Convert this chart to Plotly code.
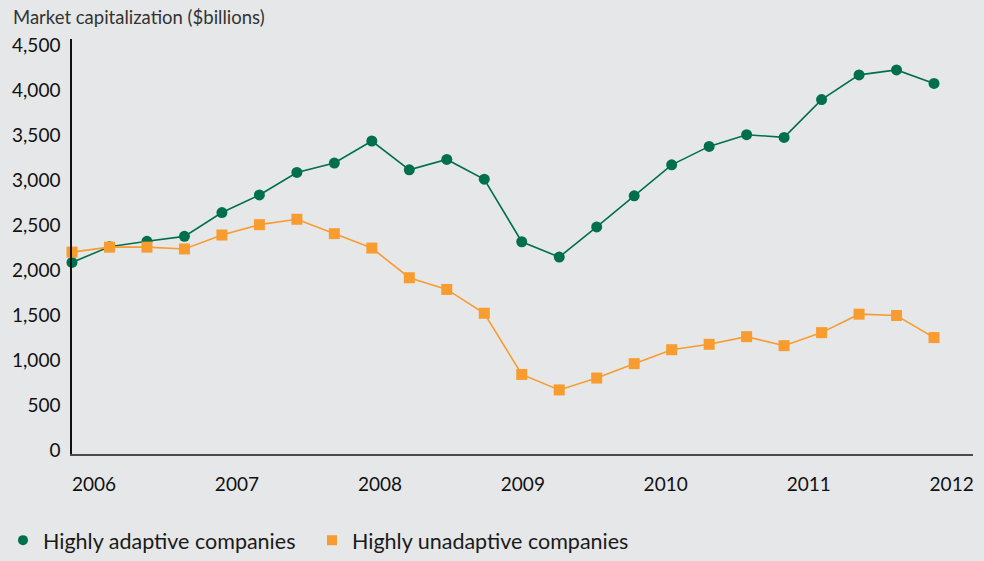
import plotly.graph_objects as go

# Quarterly observations, Q1 2006 through Q4 2011
quarters = [f"{y} Q{q}" for y in range(2006, 2012) for q in range(1, 5)]
quarter_index = list(range(len(quarters)))

# Market capitalization, $billions
adaptive = [2090, 2265, 2325, 2380, 2645, 2840, 3090, 3195,
            3440, 3120, 3235, 3015, 2320, 2150, 2485, 2830,
            3175, 3380, 3510, 3480, 3900, 4175, 4230, 4080]
unadaptive = [2205, 2260, 2260, 2240, 2395, 2510, 2570, 2410,
              2250, 1920, 1790, 1525, 845, 673, 805, 965,
              1120, 1180, 1265, 1165, 1310, 1515, 1500, 1255]

series_names = ["Highly adaptive companies", "Highly unadaptive companies"]

# Year labels along the time axis (in quarter-index units)
year_labels = ["2006", "2007", "2008", "2009", "2010", "2011", "2012"]
year_pos = [0.59, 4.40, 8.22, 12.03, 15.84, 19.66, 23.47]

y_ticks = list(range(0, 4501, 500))
y_tick_text = [f"{v:,}" for v in y_ticks]

GREEN = "#00704c"
ORANGE = "#f89c2f"
BG = "#e6e7e8"
FONT = "Lato, 'Noto Sans', sans-serif"

W, H = 984, 561
# plot area in pixels
PX_L, PX_R, PX_T, PX_B = 72, 973, 40, 461

fig = go.Figure()
for vals, name, color, symbol, legend_id in [
    (adaptive, series_names[0], GREEN, "circle", "legend"),
    (unadaptive, series_names[1], ORANGE, "square", "legend2"),
]:
    fig.add_trace(go.Scatter(
        x=quarter_index, y=vals, mode="lines+markers",
        name=name, text=quarters, showlegend=False,
        line=dict(color=color, width=1.6),
        marker=dict(symbol=symbol, size=11, color=color),
        cliponaxis=False,
    ))
    # marker-only legend entry
    fig.add_trace(go.Scatter(
        x=[None], y=[None], mode="markers", name=name, legend=legend_id,
        marker=dict(symbol=symbol, size=10, color=color),
    ))

legend_style = dict(
    orientation="h", xanchor="left",
    y=1 - 548 / H, yanchor="middle",
    font=dict(size=21.5, color="#1a1a1a", family=FONT),
    bgcolor="rgba(0,0,0,0)",
)

fig.update_layout(
    width=W, height=H,
    margin=dict(l=0, r=0, t=0, b=0),
    paper_bgcolor=BG, plot_bgcolor=BG,
    font=dict(family=FONT, color="#1a1a1a"),
    title=dict(
        text="Market capitalization ($billions)",
        x=13 / W, xanchor="left", xref="paper",
        y=1 - 18 / H, yanchor="middle", yref="paper",
        font=dict(size=18.5, color="#333333", family=FONT),
    ),
    xaxis=dict(
        domain=[PX_L / W, PX_R / W],
        range=[0, 24.04], tickvals=year_pos, ticktext=year_labels,
        showgrid=False, zeroline=False, automargin=False,
        showline=True, linecolor="#4a4a4a", linewidth=2,
        ticks="outside", ticklen=12, tickcolor="rgba(0,0,0,0)",
        tickfont=dict(size=19, color="#111111"),
    ),
    yaxis=dict(
        domain=[1 - PX_B / H, 1 - PX_T / H],
        range=[-44, 4569], tickvals=y_ticks, ticktext=y_tick_text,
        showgrid=False, zeroline=False, automargin=False,
        showline=True, linecolor="#111111", linewidth=1.5,
        ticks="outside", ticklen=6, tickcolor="rgba(0,0,0,0)",
        tickfont=dict(size=19, color="#111111"),
    ),
    legend=dict(x=3 / W, **legend_style),
    legend2=dict(x=312 / W, **legend_style),
)

fig.write_html("out.html")
